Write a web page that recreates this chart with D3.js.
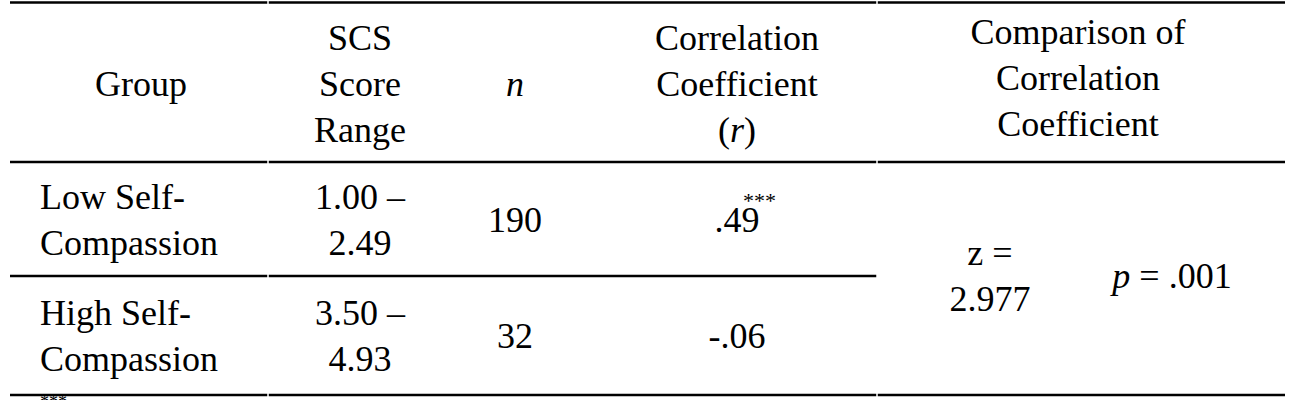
<!DOCTYPE html>
<html><head><meta charset="utf-8">
<script src="https://cdn.jsdelivr.net/npm/d3@7"></script>
<style>body{margin:0;background:#fff}</style>
</head><body><svg id="tbl" width="1295" height="400" font-family="'Liberation Serif', 'DejaVu Serif', serif" font-size="36"></svg>
<script>
var headers = [["Group"], ["SCS", "Score", "Range"], ["n"], ["Correlation", "Coefficient", "(r)"], ["Comparison of", "Correlation", "Coefficient"]];
var groups = [["Low Self-", "Compassion"], ["High Self-", "Compassion"]];
var ranges = [["1.00 \u2013", "2.49"], ["3.50 \u2013", "4.93"]];
var ns = ["190", "32"];
var rs = [".49", "-.06"];
var rStars = ["***", ""];
var zText = ["z =", "2.977"];
var pText = ".001";

var svg = d3.select("#tbl");
var colX = [141, 360, 515, 737, 1078];
var lineH = 46;
var rowY = d3.scaleLinear().domain([0, 1]).range([220, 336]);

function multi(x, cy, lines, anchor) {
  var t = svg.append("text").attr("text-anchor", anchor || "middle");
  var y0 = cy - (lines.length - 1) * lineH / 2 + 12;
  lines.forEach(function(l, i) {
    t.append("tspan").attr("x", x).attr("y", y0 + i * lineH).text(l);
  });
  return t;
}

// header
multi(colX[0], 84, headers[0]);
multi(colX[1], 84, headers[1]);
svg.append("text").attr("x", colX[2]).attr("y", 96).attr("text-anchor", "middle").attr("font-style", "italic").text("n");
var ct = multi(colX[3], 84, headers[3].slice(0, 2).concat([""]));
svg.append("text").attr("x", colX[3]).attr("y", 142).attr("text-anchor", "middle")
  .html('(<tspan font-style="italic">r</tspan>)');
multi(colX[4], 78, headers[4]);

// body
groups.forEach(function(g, i) {
  var cy = rowY(i);
  multi(40, cy, g, "start");
  multi(colX[1], cy, ranges[i]);
  svg.append("text").attr("x", colX[2]).attr("y", cy + 12).attr("text-anchor", "middle").text(ns[i]);
  svg.append("text").attr("x", colX[3]).attr("y", cy + 12).attr("text-anchor", "middle").text(rs[i]);
  if (rStars[i]) {
    svg.append("text").attr("x", colX[3] + 6).attr("y", cy - 12).attr("font-size", 22).text(rStars[i]);
  }
});
multi(990, 276, zText);
svg.append("text").attr("x", 1172).attr("y", 288).attr("text-anchor", "middle")
  .html('<tspan font-style="italic">p</tspan> = ' + pText);

// rules
var rules = [[10, 1285, 2.5], [10, 1285, 162], [10, 877, 276], [10, 1285, 395]];
rules.forEach(function(r) {
  svg.append("line").attr("x1", r[0]).attr("x2", r[1]).attr("y1", r[2]).attr("y2", r[2])
    .attr("stroke", "#000").attr("stroke-width", 2.5);
});
[268, 877].forEach(function(x) {
  svg.append("line").attr("x1", x).attr("x2", x).attr("y1", 0).attr("y2", 400).attr("stroke", "#fff").attr("stroke-width", 1.5);
});
// footnote marker, cut at the bottom edge as in the source
svg.append("text").attr("x", 40).attr("y", 408).attr("font-size", 18).text("***");
</script></body></html>
